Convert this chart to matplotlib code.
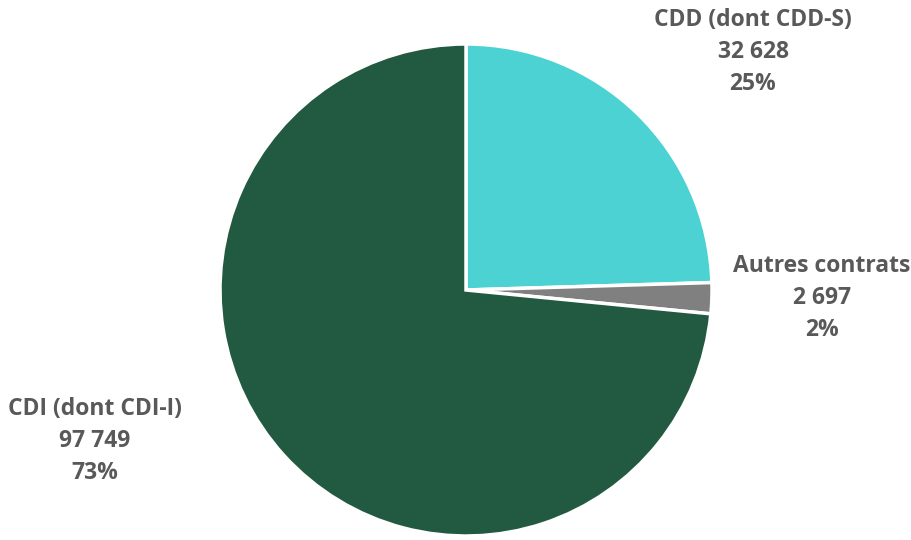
import matplotlib
matplotlib.use("Agg")
import matplotlib.pyplot as plt

# Répartition des contrats
categories = ["CDD (dont CDD-S)", "Autres contrats", "CDI (dont CDI-I)"]
values = [32628, 2697, 97749]
percents = ["25%", "2%", "73%"]
value_labels = ["32 628", "2 697", "97 749"]
colors = ["#4dd2d3", "#808080", "#225a41"]

W, H = 911, 540
fig = plt.figure(figsize=(W / 100, H / 100), dpi=100)

# pie centre and radius in pixels
cx, cy, r = 466, 290, 246
ax = fig.add_axes([(cx - r) / W, (H - cy - r) / H, 2 * r / W, 2 * r / H])

ax.pie(values, colors=colors, startangle=90, counterclock=False,
       wedgeprops=dict(edgecolor="white", linewidth=2.5))
ax.set_xlim(-1, 1)
ax.set_ylim(-1, 1)
ax.set_aspect("equal")
ax.axis("off")

# label centres (pixels)
label_pos = [(753, 52), (822, 298), (95, 441)]

for cat, vl, pc, (px, py) in zip(categories, value_labels, percents, label_pos):
    x = (px - cx) / r
    y = (cy - py) / r
    ax.text(x, y, f"{cat}\n{vl}\n{pc}", ha="center", va="center",
            fontsize=16.5, fontweight="bold", color="#595959",
            family="Open Sans", linespacing=1.42, clip_on=False)

fig.savefig("out.png", dpi=100)
